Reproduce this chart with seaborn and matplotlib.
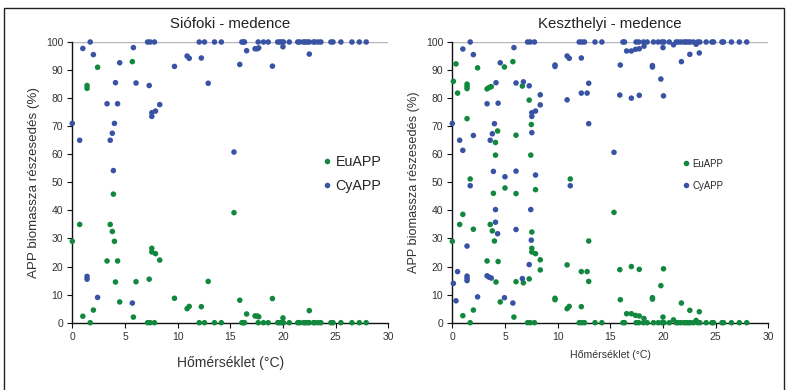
import matplotlib
matplotlib.use("Agg")
import matplotlib.pyplot as plt
import matplotlib.patches as mpatches
from matplotlib.lines import Line2D
import seaborn as sns
import pandas as pd

# ---------------- data ----------------
series_names = ["EuAPP", "CyAPP"]
x_ticks = [0, 5, 10, 15, 20, 25, 30]
y_ticks = [0, 10, 20, 30, 40, 50, 60, 70, 80, 90, 100]
titles = ["Siófoki - medence", "Keszthelyi - medence"]
x_label = "Hőmérséklet (°C)"
y_label = "APP biomassza részesedés (%)"

siofok_temp = [0.0, 0.7, 1.0, 1.4, 1.4, 1.7, 2.0, 2.4, 3.3, 3.6, 3.8, 3.9, 4.0, 4.1, 4.3, 4.5,
               5.7, 5.8, 6.05, 7.15, 7.3, 7.4, 7.55, 7.55, 7.8, 7.9, 8.3, 9.7, 10.9, 11.1,
               12.05, 12.25, 12.55, 12.9, 13.5, 14.15, 15.35, 15.9, 16.1, 16.25, 16.35, 16.55,
               17.35, 17.55, 17.65, 17.7, 18.15, 18.6, 19.0, 19.5, 19.7, 19.9, 20.0, 20.05,
               20.6, 21.4, 21.6, 21.95, 22.1, 22.3, 22.5, 22.5, 22.9, 23.05, 23.35, 23.6,
               24.55, 24.75, 25.5, 26.55, 27.25, 27.9]
siofok_cy = [71.0, 65.0, 97.7, 16.5, 15.5, 100, 95.5, 9.0, 78.0, 65.0, 67.5, 54.2, 71.0, 85.5, 78.0, 92.6,
             7.0, 98.0, 85.4, 100, 84.5, 100, 74.8, 73.5, 100, 75.4, 77.7, 91.3, 95.0, 94.2,
             100, 94.3, 100, 85.3, 100, 100, 60.8, 92.0, 100, 100, 100, 96.9,
             97.6, 97.6, 100, 97.9, 100, 100, 91.4, 100, 100, 100, 98.3, 100,
             100, 100, 100, 100, 100, 100, 95.7, 100, 100, 100, 100, 100,
             100, 100, 100, 100, 100, 100]
siofok_eu = [29.0, 35.0, 2.3, 83.5, 84.5, 0, 4.5, 91.0, 22.0, 35.0, 32.5, 45.8, 29.0, 14.5, 22.0, 7.4,
             93.0, 2.0, 14.6, 0, 15.5, 0, 25.2, 26.5, 0, 24.6, 22.3, 8.7, 5.0, 5.8,
             0, 5.7, 0, 14.7, 0, 0, 39.2, 8.0, 0, 0, 0, 3.1,
             2.4, 2.4, 0, 2.1, 0, 0, 8.6, 0, 0, 0, 1.7, 0,
             0, 0, 0, 0, 0, 0, 4.3, 0, 0, 0, 0, 0,
             0, 0, 0, 0, 0, 0]

keszthely_temp = [0.0, 0.1, 0.35, 0.5, 0.7, 1.0, 1.0, 1.4, 1.4, 1.4, 1.4, 1.7, 1.7, 2.0, 2.0, 2.4,
                  3.3, 3.3, 3.5, 3.7, 3.6, 3.8, 3.9, 4.0, 4.15, 4.1, 4.1, 4.3, 4.35, 4.55, 4.95, 5.0,
                  5.75, 5.85, 6.05, 6.05, 6.05, 6.65, 6.75, 7.15, 7.3, 7.3, 7.4, 7.45, 7.5, 7.55,
                  7.55, 7.55, 7.8, 7.9, 7.9, 8.35, 8.35, 9.75, 9.75, 10.9, 10.9, 11.1, 11.2,
                  12.05, 12.25, 12.25, 12.3, 12.55, 12.8, 12.95, 12.95, 13.55, 14.2, 15.35, 15.9,
                  15.95, 16.2, 16.35, 16.55, 17.0, 17.0, 17.4, 17.45, 17.7, 17.75, 17.75, 18.15,
                  18.2, 18.5, 19.0, 19.0, 19.1, 19.55, 19.8, 19.9, 20.0, 20.05, 20.1, 20.6, 21.0,
                  21.25, 21.45, 21.7, 21.75, 22.0, 22.2, 22.4, 22.55, 22.6, 22.9, 23.15, 23.3,
                  23.45, 23.5, 24.1, 24.65, 24.8, 25.6, 25.75, 26.5, 27.25, 27.95]
keszthely_cy = [71.0, 14.0, 7.8, 18.2, 65.0, 97.5, 61.4, 15.0, 15.8, 16.6, 27.3, 100, 48.8, 95.5, 66.7, 9.2,
                78.0, 16.7, 16.2, 15.9, 65.0, 67.3, 53.9, 70.9, 85.5, 35.8, 40.3, 31.7, 78.2, 92.6, 8.9, 52.0,
                7.0, 98.0, 85.4, 54.0, 33.2, 15.7, 85.8, 100, 84.4, 20.7, 100, 40.3, 29.4, 67.7,
                74.8, 73.5, 100, 75.4, 52.6, 81.2, 77.6, 91.8, 91.3, 95.0, 79.4, 94.2, 48.8,
                100, 94.3, 81.8, 100, 100, 81.8, 85.3, 70.9, 100, 100, 60.7, 81.1,
                91.8, 100, 100, 96.8, 96.8, 80.0, 97.4, 100, 100, 97.6, 81.0, 100,
                98.5, 100, 91.6, 91.1, 100, 100, 86.8, 100, 98.0, 80.8, 100, 100, 99.0,
                100, 100, 100, 93.0, 100, 100, 100, 95.6, 100, 100, 99.2, 100,
                96.1, 100, 100, 100, 100, 100, 100, 100, 100, 100]
keszthely_eu = [29.0, 86.0, 92.2, 81.8, 35.0, 2.5, 38.6, 85.0, 84.2, 83.4, 72.7, 0, 51.2, 4.5, 33.3, 90.8,
                22.0, 83.3, 83.8, 84.1, 35.0, 32.7, 46.1, 29.1, 14.5, 64.2, 59.7, 68.3, 21.8, 7.4, 91.1, 48.0,
                93.0, 2.0, 14.6, 46.0, 66.8, 84.3, 14.2, 0, 15.6, 79.3, 0, 59.7, 70.6, 32.3,
                25.2, 26.5, 0, 24.6, 47.4, 18.8, 22.4, 8.2, 8.7, 5.0, 20.6, 5.8, 51.2,
                0, 5.7, 18.2, 0, 0, 18.2, 14.7, 29.1, 0, 0, 39.3, 18.9,
                8.2, 0, 0, 3.2, 3.2, 20.0, 2.6, 0, 0, 2.4, 19.0, 0,
                1.5, 0, 8.4, 8.9, 0, 0, 13.2, 0, 2.0, 19.2, 0, 0, 1.0,
                0, 0, 0, 7.0, 0, 0, 0, 4.4, 0, 0, 0.8, 0,
                3.9, 0, 0, 0, 0, 0, 0, 0, 0, 0]


def long_frame(temp, eu, cy):
    return pd.DataFrame({
        "temp": list(temp) + list(temp),
        "value": list(eu) + list(cy),
        "series": [series_names[0]] * len(eu) + [series_names[1]] * len(cy),
    })


frames = [long_frame(siofok_temp, siofok_eu, siofok_cy),
          long_frame(keszthely_temp, keszthely_eu, keszthely_cy)]

# ---------------- style ----------------
sns.set_theme(style="white")
plt.rcParams["font.family"] = ["Liberation Sans", "DejaVu Sans"]

palette = {"EuAPP": "#12883e", "CyAPP": "#3852a4"}

W, H = 789, 390
fig = plt.figure(figsize=(W / 100, H / 100), dpi=100)
fig.patch.set_facecolor("white")

# outer frame
fig.add_artist(mpatches.Rectangle((4 / W, -0.05), 780 / W, 1.05 - 8 / H,
                                  transform=fig.transFigure, fill=False,
                                  edgecolor="#222222", linewidth=1.0))

ax_w, ax_h = 316 / W, 280.7 / H
ax_b = (H - 322.7) / H
lefts = [72.3 / W, 452.3 / W]

# xlabel, ylabel, legend font sizes per panel
label_sizes = [(10.0, 9.6, 10.3), (7.6, 9.2, 6.9)]
xlabel_pads = [10, 6]
legend_specs = [((387 / W, (H - 149) / H), 0.75), ((727 / W, (H - 155) / H), 1.25)]

for i, (df, left) in enumerate(zip(frames, lefts)):
    ax = fig.add_axes([left, ax_b, ax_w, ax_h])
    sns.scatterplot(data=df, x="temp", y="value", hue="series",
                    hue_order=series_names, palette=palette, s=16,
                    linewidth=0, ax=ax, legend=False, clip_on=False, zorder=3)
    ax.set_xlim(0, 30)
    ax.set_ylim(0, 100)
    ax.set_xticks(x_ticks)
    ax.set_yticks(y_ticks)
    ax.axhline(100, color="#b5b5b5", linewidth=1.0, zorder=1)
    for s in ["top", "right"]:
        ax.spines[s].set_visible(False)
    for s in ["left", "bottom"]:
        ax.spines[s].set_color("#111111")
        ax.spines[s].set_linewidth(1.0)
    ax.tick_params(axis="both", direction="out", length=3.5, width=0.8,
                   color="#111111", labelsize=7.5, labelcolor="#333333",
                   left=True, bottom=True, pad=3)
    ax.set_title(titles[i], fontsize=10.8, color="#222222", pad=10)
    xs, ys, ls = label_sizes[i]
    ax.set_xlabel(x_label, fontsize=xs, color="#333333", labelpad=xlabel_pads[i])
    ax.set_ylabel(y_label, fontsize=ys, color="#333333", labelpad=4)
    handles = [Line2D([0], [0], marker="o", linestyle="", markersize=4,
                      markerfacecolor=palette[n], markeredgewidth=0, label=n)
               for n in series_names]
    anchor, spacing = legend_specs[i]
    ax.legend(handles=handles, loc="upper right",
              bbox_to_anchor=anchor, bbox_transform=fig.transFigure,
              frameon=False, fontsize=ls, handletextpad=0.1, handlelength=1.0,
              labelspacing=spacing, borderaxespad=0)

fig.savefig("out.png", dpi=100, facecolor="white")
